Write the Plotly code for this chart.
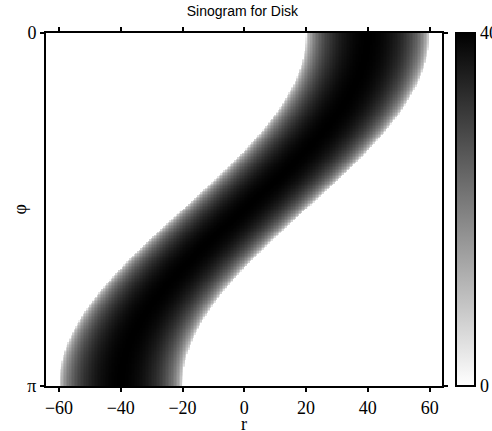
import numpy as np
import plotly.graph_objects as go

# Disk phantom: radius and centre in image coordinates
DISK_RADIUS = 20.0
DISK_CENTER_X = 40.0
DISK_CENTER_Y = 0.0

# Sampling of the projection coordinate r and the angle phi
r_values = np.linspace(-64, 64, 257)
phi_values = np.linspace(0, np.pi, 241)

x_tick_values = [-60, -40, -20, 0, 20, 40, 60]
x_tick_text = ["\u221260", "\u221240", "\u221220", "0", "20", "40", "60"]
y_tick_values = [0, np.pi]
y_tick_text = ["0", "\u03c0"]
cbar_tick_values = [0, 40]
cbar_tick_text = ["0", "40"]

# Radon transform of a uniform disk: chord length through the disk
R, PHI = np.meshgrid(r_values, phi_values)
r_center = DISK_CENTER_X * np.cos(PHI) + DISK_CENTER_Y * np.sin(PHI)
d2 = DISK_RADIUS ** 2 - (R - r_center) ** 2
sinogram = 2.0 * np.sqrt(np.clip(d2, 0, None))

serif = "Liberation Serif, Times New Roman, serif"
sans = "Liberation Sans, Arial, sans-serif"
label_font = dict(family=serif, size=18, color="black")

fig = go.Figure(
    go.Heatmap(
        x=r_values,
        y=phi_values,
        z=sinogram,
        zmin=0,
        zmax=40,
        zsmooth=False,
        colorscale=[[0, "#ffffff"], [1, "#000000"]],
        colorbar=dict(
            x=1.0353,
            xanchor="left",
            xpad=0,
            y=0.5,
            yanchor="middle",
            len=1,
            lenmode="fraction",
            ypad=0,
            thickness=19,
            outlinewidth=2,
            outlinecolor="black",
            tickvals=cbar_tick_values,
            ticktext=cbar_tick_text,
            ticks="",
            tickfont=label_font,
        ),
    )
)

axis_common = dict(
    showline=True,
    linecolor="black",
    linewidth=2,
    mirror="ticks",
    ticks="outside",
    ticklen=4,
    tickwidth=1.5,
    tickcolor="black",
    showgrid=False,
    zeroline=False,
    automargin=False,
    tickfont=label_font,
)

fig.update_xaxes(
    range=[-64.2, 64.0],
    tickvals=x_tick_values,
    ticktext=x_tick_text,
    **axis_common,
)
fig.update_yaxes(
    range=[np.pi, 0],
    tickvals=y_tick_values,
    ticktext=y_tick_text,
    **axis_common,
)

# Axis labels placed as annotations for exact positioning
fig.add_annotation(
    text="r", x=0, xref="x", y=-0.107, yref="paper",
    xanchor="center", yanchor="middle", showarrow=False, font=label_font,
)
fig.add_annotation(
    text="\u03c6", x=-0.068, xref="paper", y=0.5, yref="paper",
    xanchor="center", yanchor="middle", textangle=-90, showarrow=False, font=label_font,
)

fig.update_layout(
    width=492,
    height=431,
    margin=dict(l=46, r=50, t=33, b=45, autoexpand=False),
    paper_bgcolor="white",
    plot_bgcolor="white",
    title=dict(
        text="Sinogram for Disk",
        font=dict(family=sans, size=14, color="black"),
        x=0.496,
        xanchor="center",
        xref="paper",
        y=1 - 11 / 431,
        yref="container",
        yanchor="middle",
    ),
)

fig.write_html("out.html")
